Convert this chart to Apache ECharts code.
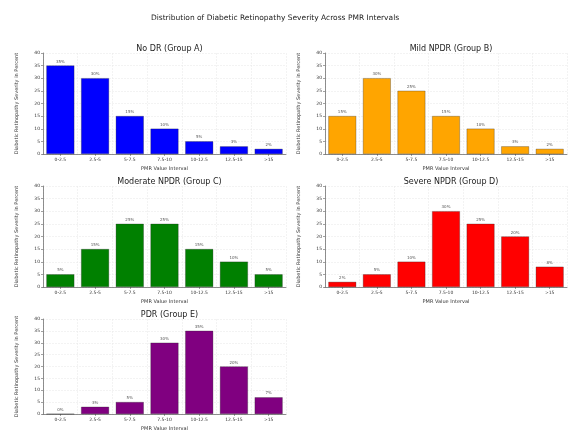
<!DOCTYPE html>
<html>
<head>
<meta charset="utf-8">
<script src="https://cdn.jsdelivr.net/npm/echarts@6/dist/echarts.min.js"></script>
<style>
  html, body { margin: 0; padding: 0; background: #fff; }
  #chart { width: 572px; height: 432px; }
</style>
</head>
<body>
<div id="chart"></div>
<script>
// PMR intervals on the x axis
const categories = ['0-2.5', '2.5-5', '5-7.5', '7.5-10', '10-12.5', '12.5-15', '>15'];
const yTicks = [0, 5, 10, 15, 20, 25, 30, 35, 40];

// percent of patients per interval, one array per group
const groupA = [35, 30, 15, 10, 5, 3, 2];
const groupB = [15, 30, 25, 15, 10, 3, 2];
const groupC = [5, 15, 25, 25, 15, 10, 5];
const groupD = [2, 5, 10, 30, 25, 20, 8];
const groupE = [0, 3, 5, 30, 35, 20, 7];

const groupNames = ['No DR (Group A)', 'Mild NPDR (Group B)', 'Moderate NPDR (Group C)', 'Severe NPDR (Group D)', 'PDR (Group E)'];
const groupData = [groupA, groupB, groupC, groupD, groupE];
const groupColors = ['#0000ff', '#ffa500', '#008000', '#ff0000', '#800080'];

// grid boxes [left, top, width, height]
const boxes = [
  [43, 53, 243, 101],
  [325, 53, 242, 101],
  [43, 186, 243, 101],
  [325, 186, 242, 101],
  [43, 319, 243, 100]
];

var chart = echarts.init(document.getElementById('chart'));

const titles = [{
  text: 'Distribution of Diabetic Retinopathy Severity Across PMR Intervals',
  left: 270, top: 9, textAlign: 'center',
  textStyle: { fontSize: 7.5, fontWeight: 'normal', color: '#222', fontFamily: 'DejaVu Sans' }
}];
const grids = [], xAxes = [], yAxes = [], series = [];

boxes.forEach((b, i) => {
  titles.push({
    text: groupNames[i],
    left: b[0] + b[2] / 2, top: b[1] - 13, textAlign: 'center',
    textStyle: { fontSize: 8, fontWeight: 'normal', color: '#222', fontFamily: 'DejaVu Sans' }
  });
  grids.push({ left: b[0], top: b[1], width: b[2], height: b[3] });
  xAxes.push({
    type: 'category', gridIndex: i, data: categories,
    name: 'PMR Value Interval', nameLocation: 'middle', nameGap: 12,
    nameTextStyle: { fontSize: 5, color: '#333', fontFamily: 'DejaVu Sans' },
    axisLine: { lineStyle: { color: '#444', width: 0.6 } },
    axisTick: { show: true, alignWithLabel: true, length: 2, lineStyle: { color: '#444', width: 0.5 } },
    axisLabel: { fontSize: 4.5, color: '#333', margin: 3, interval: 0, fontFamily: 'DejaVu Sans' },
    splitLine: { show: true, interval: 0, lineStyle: { color: '#e6e6e6', width: 0.5, type: 'dashed' } }
  });
  yAxes.push({
    type: 'value', gridIndex: i, min: 0, max: 40, interval: 5,
    name: 'Diabetic Retinopathy Severity in Percent', nameLocation: 'middle', nameGap: 24,
    nameTextStyle: { fontSize: 5, color: '#333', fontFamily: 'DejaVu Sans' },
    axisLine: { show: true, lineStyle: { color: '#444', width: 0.6 } },
    axisTick: { show: true, length: 2, lineStyle: { color: '#444', width: 0.5 } },
    axisLabel: { fontSize: 4.5, color: '#333', margin: 3, fontFamily: 'DejaVu Sans' },
    splitLine: { show: true, lineStyle: { color: '#e6e6e6', width: 0.5, type: 'dashed' } }
  });
  series.push({
    type: 'bar', xAxisIndex: i, yAxisIndex: i, data: groupData[i],
    barCategoryGap: '20%',
    itemStyle: { color: groupColors[i], borderColor: '#222', borderWidth: 0.3 },
    label: {
      show: true, position: 'top', distance: 2, fontSize: 4, color: '#555',
      fontFamily: 'DejaVu Sans', formatter: p => p.value + '%'
    }
  });
});

const option = {
  backgroundColor: '#fff',
  animation: false,
  title: titles,
  grid: grids,
  xAxis: xAxes,
  yAxis: yAxes,
  series: series
};
option && chart.setOption(option);
</script>
</body>
</html>
